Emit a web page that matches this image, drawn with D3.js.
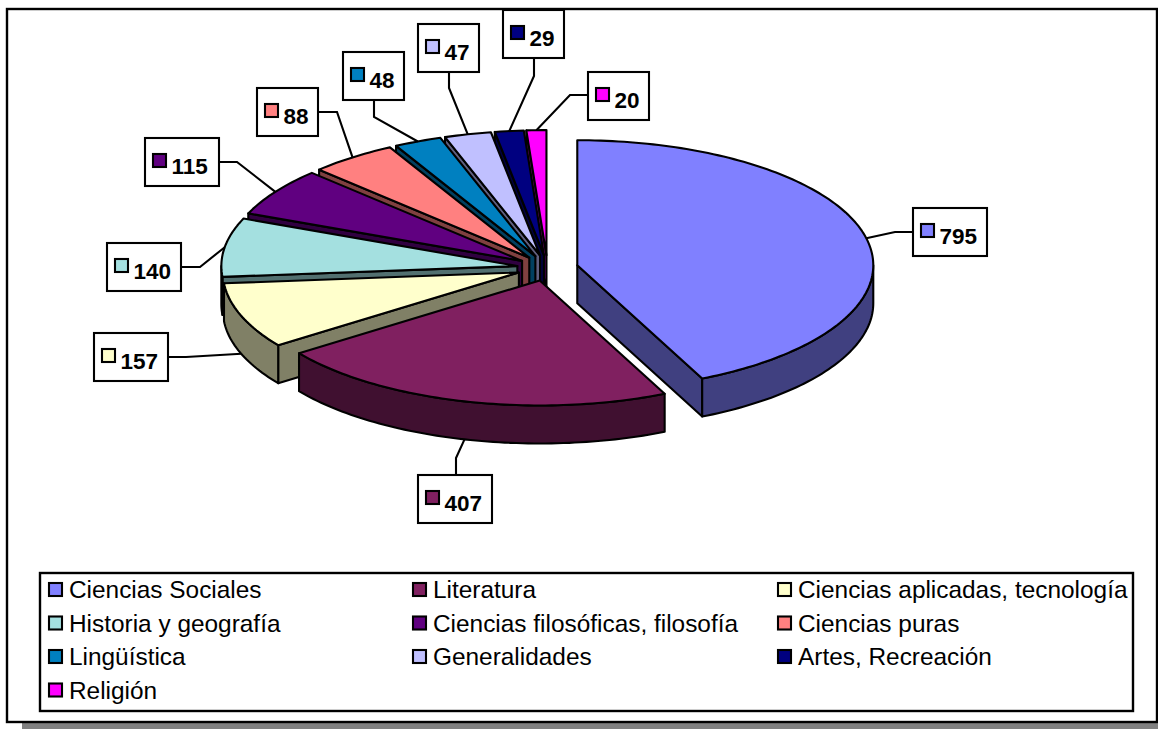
<!DOCTYPE html>
<html>
<head>
<meta charset="utf-8">
<script src="https://cdn.jsdelivr.net/npm/d3@7"></script>
<style>
	html, body { margin: 0; padding: 0; background: #fff; overflow: hidden; }
	svg { display: block; }
	text { font-family: "Liberation Sans", Arial, sans-serif; fill: #000; }
</style>
</head>
<body>
<div id="chart"></div>
<script>
var windowW = 1158;
var windowH = 729;

//////// Data
var categories = ["Ciencias Sociales", "Literatura", "Ciencias aplicadas, tecnología", "Historia y geografía", "Ciencias filosóficas, filosofía", "Ciencias puras", "Lingüística", "Generalidades", "Artes, Recreación", "Religión"];
var values = [795, 407, 157, 140, 115, 88, 48, 47, 29, 20];
var colors = ["#8080FF", "#802060", "#FFFFCC", "#A4E0E0", "#600080", "#FF8080", "#0080C0", "#C0C0FF", "#000080", "#FF00FF"];

//////// Layout, hand placed like in the original: label box corner and leader elbow
var labelBoxes = [[913, 208], [418, 475], [94, 333], [107, 243], [145, 138], [257, 88], [343, 52], [418, 24], [503, 10], [588, 72]];
var labelElbows = [[895, 232], [456, 458], [186, 357], [200, 267], [237, 162], [337, 112], [374, 117], [449, 88], [534, 76], [570, 95]];

var cx = 547.5, cy = 268;
var rx = 296, ry = 125;
var depth = 38;
var explode = 30.5;

var lineW = 2.1;

var svg = d3.select("#chart").append("svg")
	.attr("width", windowW)
	.attr("height", windowH);

//////// Frame
svg.append("rect").attr("x", 22).attr("y", 20).attr("width", windowW).attr("height", 709).attr("fill", "#808080");
svg.append("rect").attr("x", 7).attr("y", 9).attr("width", 1150).attr("height", 713)
	.attr("fill", "#fff").attr("stroke", "#000").attr("stroke-width", 2.4);

//////// Pie geometry
var slices = d3.pie().sort(null)(values);

var line = d3.line();

function pointAt(center, angle) {
	return [center[0] + rx * Math.sin(angle), center[1] - ry * Math.cos(angle)];
}

function arcPoints(center, a0, a1) {
	var n = Math.max(2, Math.ceil((a1 - a0) / 0.02));
	return d3.range(n + 1).map(function(i) {
		return pointAt(center, a0 + (a1 - a0) * i / n);
	});
}

function shift(points) {
	return points.map(function(p) { return [p[0], p[1] + depth]; });
}

slices.forEach(function(d) {
	d.mid = (d.startAngle + d.endAngle) / 2;
	// the exploded offset follows the ellipse too
	d.center = [cx + explode * Math.sin(d.mid), cy - explode * (ry / rx) * Math.cos(d.mid)];
});

//////// Back slices first, then the right one, Literatura last
var drawOrder = d3.range(slices.length - 1, 1, -1).concat([0, 1]);

var pieGroup = svg.append("g")
	.attr("stroke", "#000")
	.attr("stroke-width", lineW)
	.attr("stroke-linejoin", "round");

drawOrder.forEach(function(i) {
	var d = slices[i];
	var c = d3.color(colors[i]);
	var side = d3.rgb(c.r / 2, c.g / 2, c.b / 2).formatHex();
	var g = pieGroup.append("g");

	function wall(angle) {
		var edge = [d.center, pointAt(d.center, angle)];
		g.append("path")
			.attr("d", line(edge.concat(shift(edge).reverse())) + "Z")
			.attr("fill", side);
	}

	if (Math.sin(d.startAngle) < 0) wall(d.startAngle);
	if (Math.sin(d.endAngle) > 0.01) wall(d.endAngle);

	// rim, only the front half of the ellipse shows
	var a0 = Math.max(d.startAngle, Math.PI / 2);
	var a1 = Math.min(d.endAngle, Math.PI * 1.5);
	if (a1 > a0) {
		var rim = arcPoints(d.center, a0, a1);
		g.append("path")
			.attr("d", line(rim.concat(shift(rim).reverse())) + "Z")
			.attr("fill", side);
	}

	var wedge = [d.center].concat(arcPoints(d.center, d.startAngle, d.endAngle));
	g.append("path")
		.attr("d", line(wedge) + "Z")
		.attr("fill", colors[i]);
});

//////// Data labels
var labelFont = 22.5;

slices.forEach(function(d, i) {
	var box = labelBoxes[i];
	var boxW = String(values[i]).length == 3 ? 74 : 61;
	var boxH = 48;
	var elbow = labelElbows[i];

	var anchor = pointAt(d.center, d.mid);
	if (d.mid > Math.PI / 2 && d.mid < Math.PI * 1.5) anchor[1] += depth;

	// leader leaves the box on the side the elbow is on
	var start;
	if (elbow[0] > box[0] + boxW) start = [box[0] + boxW, elbow[1]];
	else if (elbow[0] < box[0]) start = [box[0], elbow[1]];
	else if (elbow[1] > box[1] + boxH) start = [elbow[0], box[1] + boxH];
	else start = [elbow[0], box[1]];

	svg.append("path")
		.attr("d", line([start, elbow, anchor]))
		.attr("fill", "none")
		.attr("stroke", "#000")
		.attr("stroke-width", lineW);

	var g = svg.append("g").attr("transform", "translate(" + box[0] + "," + box[1] + ")");
	g.append("rect")
		.attr("width", boxW).attr("height", boxH)
		.attr("fill", "#fff").attr("stroke", "#000").attr("stroke-width", lineW);
	g.append("rect")
		.attr("x", 8).attr("y", 16).attr("width", 13).attr("height", 13)
		.attr("fill", colors[i]).attr("stroke", "#000").attr("stroke-width", lineW);
	g.append("text")
		.attr("x", 26.5).attr("y", 35.5)
		.attr("font-size", labelFont).attr("font-weight", "bold")
		.text(values[i]);
});

//////// Legend
svg.append("rect").attr("x", 40).attr("y", 573).attr("width", 1093).attr("height", 138)
	.attr("fill", "#fff").attr("stroke", "#000").attr("stroke-width", 2.4);

var legendX = d3.scaleOrdinal().domain([0, 1, 2]).range([49, 413, 778]);
var legendY = d3.scaleLinear().domain([0, 3]).range([583, 683.5]);

categories.forEach(function(name, i) {
	var g = svg.append("g")
		.attr("transform", "translate(" + legendX(i % 3) + "," + legendY(Math.floor(i / 3)) + ")");
	g.append("rect")
		.attr("width", 13).attr("height", 13)
		.attr("fill", colors[i]).attr("stroke", "#000").attr("stroke-width", lineW);
	g.append("text")
		.attr("x", 20).attr("y", 15)
		.attr("font-size", 24.4)
		.text(name);
});
</script>
</body>
</html>
